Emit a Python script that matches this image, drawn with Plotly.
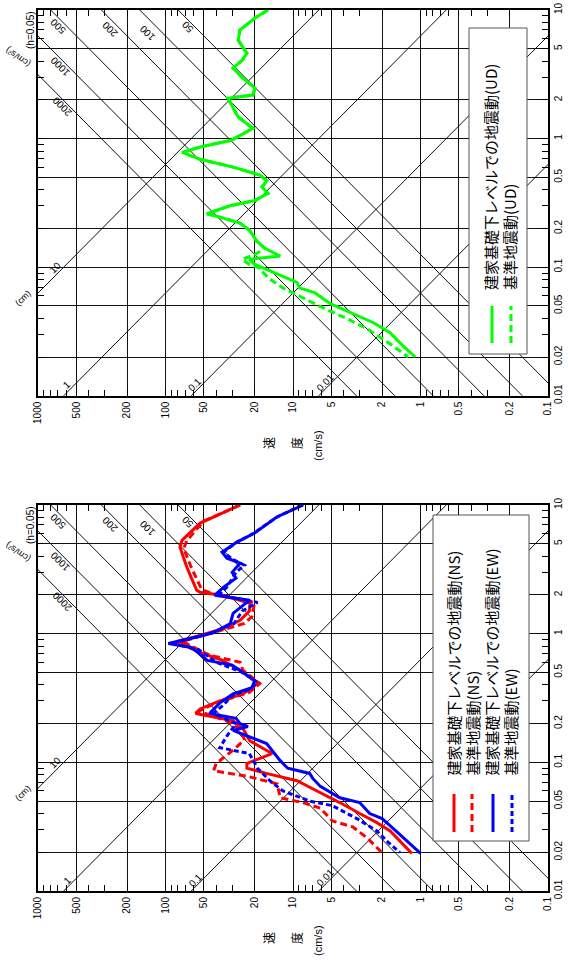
import math
import plotly.graph_objects as go

# ---------------- data ----------------
# Top panel: UD
UD_BLD_T = [10, 8.67, 6.98, 5.83, 4.6, 4.07, 3.53, 2.95, 2.47, 2.18, 2.06, 1.75, 1.47, 1.2, 0.97, 0.86, 0.78,
            0.69, 0.6, 0.52, 0.47, 0.42, 0.375, 0.33, 0.3, 0.26, 0.245, 0.22, 0.193, 0.16, 0.14, 0.122, 0.115,
            0.105, 0.098, 0.089, 0.076, 0.069, 0.063, 0.052, 0.0442, 0.0371, 0.031, 0.0245, 0.02]
UD_BLD_V = [15.7, 19.9, 26.1, 26.9, 23, 25, 29.5, 24.7, 19.9, 20.6, 32.4, 29.5, 26.9, 20.6, 30.5, 53.5, 74,
            53.5, 29.5, 18.2, 16.0, 17.5, 15.7, 19.9, 31.3, 47.3, 37.5, 26.1, 21.9, 19.3, 16.6, 12.6, 22,
            20, 17, 13.3, 9.3, 8.9, 6.7, 5.1, 3.57, 2.36, 1.74, 1.38, 1.1]

UD_BASE_T = [10, 8.67, 6.98, 5.83, 4.6, 4.07, 3.53, 2.95, 2.47, 2.18, 2.06, 1.75, 1.47, 1.2, 0.97, 0.86, 0.78,
             0.69, 0.6, 0.52, 0.47, 0.42, 0.375, 0.33, 0.3, 0.26, 0.245, 0.22, 0.193, 0.16, 0.14, 0.125, 0.115,
             0.105, 0.098, 0.09, 0.08, 0.069, 0.0465, 0.0399, 0.033, 0.025, 0.02]
UD_BASE_V = [15.7, 19.9, 26.1, 26.9, 23, 25, 29.5, 24.7, 19.9, 20.6, 32.4, 29.5, 26.9, 20.6, 30.5, 53.5, 74,
             53.5, 29.5, 18.2, 16.0, 17.5, 15.7, 19.9, 31.3, 47.3, 37.5, 26.1, 21.9, 19.3, 16.6, 20, 25,
             22, 18, 17, 15, 12, 5.4, 3.8, 2.6, 1.7, 1.25]

# Bottom panel: NS / EW
NS_BLD_T = [10, 7.24, 5.34, 4.7, 3.28, 2.6, 2.18, 2.1, 1.98, 1.72, 1.5, 1.27, 1.1, 0.97, 0.87, 0.71, 0.63,
            0.52, 0.41, 0.34, 0.3, 0.26, 0.24, 0.21, 0.183, 0.147, 0.117, 0.098, 0.09, 0.082, 0.072, 0.058,
            0.0487, 0.040, 0.034, 0.0293, 0.0196]
NS_BLD_V = [26, 53.5, 74, 77, 68, 62, 57, 53.5, 35, 21.7, 22, 26, 35, 53.5, 81.7, 53.5, 37,
            26, 18.8, 24.7, 37.5, 53.5, 58, 29.5, 24.7, 21.8, 14.6, 23, 23, 16.2, 9.3, 6.1,
            4.3, 3.0, 2.2, 1.73, 1.17]

NS_BASE_T = [10, 7.5, 5.3, 4.6, 3.3, 2.6, 2.2, 2.0, 1.75, 1.36, 1.2, 1.0, 0.87, 0.68, 0.6, 0.52, 0.41, 0.35,
             0.29, 0.25, 0.21, 0.18, 0.15, 0.13, 0.11, 0.098, 0.086, 0.078, 0.068, 0.053, 0.0487, 0.044,
             0.035, 0.0315, 0.0257, 0.0198]
NS_BASE_V = [26, 50, 68, 72, 63, 56, 52, 40, 20, 21, 24, 45, 74, 45, 26, 24.7, 18.2, 22,
             40, 55, 33, 26, 24, 28, 35, 40, 42, 23, 13.3, 12.6, 8.4, 6.1,
             4.9, 3.4, 2.6, 2.0]

EW_BLD_T = [10, 8.07, 6.05, 5.15, 4.3, 3.86, 3.53, 3.0, 2.7, 2.3, 1.99, 1.82, 1.44, 1.2, 1.02, 0.93, 0.84,
            0.78, 0.62, 0.57, 0.5, 0.43, 0.38, 0.34, 0.29, 0.24, 0.22, 0.2, 0.19, 0.177, 0.14, 0.103, 0.09,
            0.082, 0.075, 0.065, 0.053, 0.0487, 0.040, 0.0365, 0.03, 0.0196]
EW_BLD_V = [8.3, 13.4, 20, 27.5, 36, 33, 26, 30, 28, 35, 41, 21.9, 29.5, 31, 42, 60, 95,
            62, 47, 30, 24.7, 20, 21, 29.5, 37.5, 45, 28, 26, 22.6, 29.5, 16.1, 12.6, 11,
            7.4, 7, 6.1, 4.3, 3.0, 2.5, 2.0, 1.6, 1.0]

EW_BASE_T = [10, 8, 6, 5.1, 4.3, 3.8, 3.4, 3.0, 2.3, 2.0, 1.75, 1.5, 1.2, 1.0, 0.84, 0.75, 0.6, 0.5, 0.42,
             0.37, 0.33, 0.28, 0.24, 0.2, 0.16, 0.14, 0.13, 0.117, 0.09, 0.072, 0.06, 0.05, 0.046, 0.0365,
             0.0293, 0.024, 0.0199]
EW_BASE_V = [8.5, 13.5, 20.5, 28, 35, 30, 24, 28, 33, 38, 19, 25, 29, 45, 90, 55, 40, 25, 19,
             22, 30, 35, 42, 28, 33, 36, 37.5, 22, 19, 15.2, 12, 7.4, 4.9, 3.15,
             2.2, 1.8, 1.45]

V_TICKS = [1000, 500, 200, 100, 50, 20, 10, 5, 2, 1, 0.5, 0.2, 0.1]
V_LABELS = ["1000", "500", "200", "100", "50", "20", "10", "5", "2", "1", "0.5", "0.2", "0.1"]
T_TICKS = [0.01, 0.02, 0.05, 0.1, 0.2, 0.5, 1, 2, 5, 10]
T_LABELS = ["0.01", "0.02", "0.05", "0.1", "0.2", "0.5", "1", "2", "5", "10"]

ACC_LINES = [50, 100, 200, 500, 1000, 2000]        # cm/s^2
ACC_LABELS = ["50", "100", "200", "500", "1000", "2000"]
DISP_LINES = [0.01, 0.1, 1, 10]                    # cm
DISP_LABELS = ["0.01", "0.1", "1", "10"]

LEG_UD = ["建家基礎下レベルでの地震動(UD)", "基準地震動(UD)"]
LEG_H = ["建家基礎下レベルでの地震動(NS)", "基準地震動(NS)",
         "建家基礎下レベルでの地震動(EW)", "基準地震動(EW)"]

# ---------------- layout geometry (pixels) ----------------
W, H = 568, 967
ML, MR, MT, MB = 38, 20, 10, 76
PW = W - ML - MR
PH = H - MT - MB
PANELS = [(10, 395.7), (505, 891)]   # top/bottom pixel of each plot area


def xp(px):
    return (px - ML) / PW


def yp(py):
    return (H - MB - py) / PH


GREEN = "#00ff00"
RED = "#ff0000"
BLUE = "#0000ff"
FONT = "Liberation Sans, Arial, sans-serif"
JFONT = "Noto Sans CJK JP, sans-serif"
RED_DASH = "7px,4px"
BLUE_DASH = "5px,3px"
LW = 3

fig = go.Figure()

axis_names = [("x", "y"), ("x2", "y2")]

minor_vals_v = [d * 10 ** k for k in range(-1, 3) for d in range(1, 10)] + [1000]
minor_vals_t = [d * 10 ** k for k in range(-2, 1) for d in range(1, 10)] + [10]

T_RANGE = [0.001, 100]

for i, (xa, ya) in enumerate(axis_names):
    # diagonal acceleration lines  V = A T / 2pi
    for a in ACC_LINES:
        ts = T_RANGE
        vs = [a * t / (2 * math.pi) for t in ts]
        fig.add_trace(go.Scatter(x=vs, y=ts, mode="lines", xaxis=xa, yaxis=ya,
                                 line=dict(color="#111", width=1), showlegend=False, hoverinfo="skip"))
    # diagonal displacement lines V = 2pi D / T
    for d in DISP_LINES:
        ts = T_RANGE
        vs = [2 * math.pi * d / t for t in ts]
        fig.add_trace(go.Scatter(x=vs, y=ts, mode="lines", xaxis=xa, yaxis=ya,
                                 line=dict(color="#111", width=1), showlegend=False, hoverinfo="skip"))

# spectra curves
fig.add_trace(go.Scatter(x=UD_BASE_V, y=UD_BASE_T, mode="lines", name=LEG_UD[1], xaxis="x", yaxis="y",
                         line=dict(color=GREEN, width=LW, dash=RED_DASH), showlegend=False))
fig.add_trace(go.Scatter(x=UD_BLD_V, y=UD_BLD_T, mode="lines", name=LEG_UD[0], xaxis="x", yaxis="y",
                         line=dict(color=GREEN, width=LW), showlegend=False))

fig.add_trace(go.Scatter(x=NS_BASE_V, y=NS_BASE_T, mode="lines", name=LEG_H[1], xaxis="x2", yaxis="y2",
                         line=dict(color=RED, width=LW, dash=RED_DASH), showlegend=False))
fig.add_trace(go.Scatter(x=NS_BLD_V, y=NS_BLD_T, mode="lines", name=LEG_H[0], xaxis="x2", yaxis="y2",
                         line=dict(color=RED, width=LW), showlegend=False))
fig.add_trace(go.Scatter(x=EW_BASE_V, y=EW_BASE_T, mode="lines", name=LEG_H[3], xaxis="x2", yaxis="y2",
                         line=dict(color=BLUE, width=LW, dash=BLUE_DASH), showlegend=False))
fig.add_trace(go.Scatter(x=EW_BLD_V, y=EW_BLD_T, mode="lines", name=LEG_H[2], xaxis="x2", yaxis="y2",
                         line=dict(color=BLUE, width=LW), showlegend=False))

common_x = dict(type="log", range=[3, -1], tickmode="array", tickvals=V_TICKS, ticktext=V_LABELS,
                tickangle=-90, showgrid=True, gridcolor="#111", gridwidth=1, showline=True,
                linecolor="black", linewidth=2, mirror="allticks", ticks="inside", ticklen=6,
                tickcolor="black", tickfont=dict(family=FONT, size=10, color="black"),
                minor=dict(tickmode="array", tickvals=minor_vals_v, ticks="inside", ticklen=6,
                           tickcolor="black", showgrid=False),
                zeroline=False, fixedrange=True, automargin=False)
common_y = dict(type="log", range=[-2, 1], tickmode="array", tickvals=T_TICKS, ticktext=T_LABELS,
                tickangle=-90, side="right", showgrid=True, gridcolor="#111", gridwidth=1, showline=True,
                linecolor="black", linewidth=2, mirror="allticks", ticks="inside", ticklen=6,
                tickcolor="black", tickfont=dict(family=FONT, size=10, color="black"),
                minor=dict(tickmode="array", tickvals=minor_vals_t, ticks="inside", ticklen=6,
                           tickcolor="black", showgrid=False),
                zeroline=False, fixedrange=True, automargin=False)

top_dom = [yp(PANELS[0][1]), yp(PANELS[0][0])]
bot_dom = [yp(PANELS[1][1]), yp(PANELS[1][0])]

fig.update_layout(
    width=W, height=H,
    margin=dict(l=ML, r=MR, t=MT, b=MB, autoexpand=False),
    paper_bgcolor="white", plot_bgcolor="white",
    showlegend=False,
    xaxis=dict(common_x, domain=[0, 1], anchor="y"),
    yaxis=dict(common_y, domain=top_dom, anchor="x"),
    xaxis2=dict(common_x, domain=[0, 1], anchor="y2"),
    yaxis2=dict(common_y, domain=bot_dom, anchor="x2"),
)

annotations = []
shapes = []


def ann(text, px, py, angle, size=10, family=FONT, xanchor="center", yanchor="middle"):
    annotations.append(dict(text=text, x=xp(px), y=yp(py), xref="paper", yref="paper",
                            showarrow=False, textangle=angle, xanchor=xanchor, yanchor=yanchor,
                            font=dict(family=family, size=size, color="black")))


acc_pos = {"500": (58, 27), "200": (110, 30), "100": (148, 33), "50": (187, 27),
           "1000": (60, 67), "2000": (62, 107)}
disp_pos = {"10": (55, 267), "1": (67, 385), "0.1": (195, 385), "0.01": (325, 382)}

for p, off in enumerate([0, 495]):
    for lab in ACC_LABELS:
        x0, y0 = acc_pos[lab]
        ann(lab, x0, y0 + off, -135, size=10)
    for lab in DISP_LABELS:
        x0, y0 = disp_pos[lab]
        ann(lab, x0, y0 + off, -45, size=10)
    ann("(h=0.05)", 30, 30 + off, -90, size=10)
    ann("(cm/s²)", 18, 57 + off, -145, size=9)
    ann("(cm)", 23, 298 + off, -45, size=9)
    ann("速", 268, 443 + off, -90, size=12, family=JFONT)
    ann("度", 296, 443 + off, -90, size=12, family=JFONT)
    ann("(cm/s)", 318, 446 + off, -90, size=11, family=FONT)

# legend top (UD)
shapes.append(dict(type="rect", xref="paper", yref="paper", x0=xp(469), x1=xp(527), y0=yp(354), y1=yp(28),
                   line=dict(color="#555", width=1), fillcolor="white", layer="above"))
leg_top_items = [(LEG_UD[0], GREEN, "solid", 490, 492), (LEG_UD[1], GREEN, RED_DASH, 509, 511)]
for text, col, dash, tx, lx in leg_top_items:
    shapes.append(dict(type="line", xref="paper", yref="paper", x0=xp(lx), x1=xp(lx), y0=yp(343), y1=yp(306),
                       line=dict(color=col, width=LW, dash=dash), layer="above"))
    annotations.append(dict(text=text, x=xp(tx), y=yp(292), xref="paper", yref="paper", showarrow=False,
                            textangle=-90, xanchor="center", yanchor="bottom",
                            font=dict(family=JFONT, size=15, color="black")))

# legend bottom (NS/EW)
shapes.append(dict(type="rect", xref="paper", yref="paper", x0=xp(433), x1=xp(529), y0=yp(841), y1=yp(515),
                   line=dict(color="#555", width=1), fillcolor="white", layer="above"))
leg_bot_items = [(LEG_H[0], RED, "solid", 453, 454), (LEG_H[1], RED, RED_DASH, 472, 472),
                 (LEG_H[2], BLUE, "solid", 491, 493), (LEG_H[3], BLUE, BLUE_DASH, 510, 512)]
for text, col, dash, tx, lx in leg_bot_items:
    shapes.append(dict(type="line", xref="paper", yref="paper", x0=xp(lx), x1=xp(lx), y0=yp(832), y1=yp(794),
                       line=dict(color=col, width=LW, dash=dash), layer="above"))
    annotations.append(dict(text=text, x=xp(tx), y=yp(778), xref="paper", yref="paper", showarrow=False,
                            textangle=-90, xanchor="center", yanchor="bottom",
                            font=dict(family=JFONT, size=15, color="black")))

fig.update_layout(annotations=annotations, shapes=shapes)
# remove the browser's default 8px page margin so the figure sits at the window's top-left corner
fig.write_html("out.html", config={"displayModeBar": False},
               post_script="document.body.style.margin='0px';")
